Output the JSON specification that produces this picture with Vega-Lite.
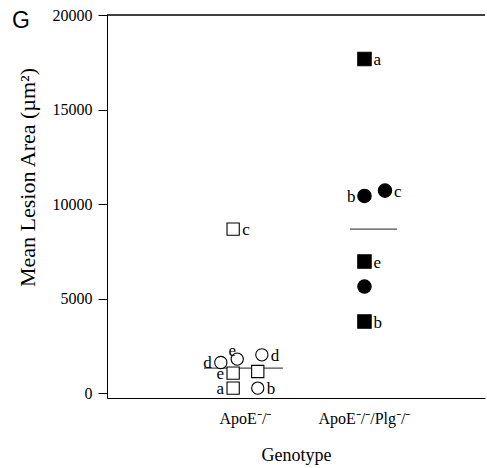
{
  "$schema": "https://vega.github.io/schema/vega-lite/v6.json",
  "width": 378,
  "height": 383,
  "autosize": {"type": "none"},
  "padding": {"left": 107, "top": 15, "right": 2, "bottom": 70},
  "background": "white",
  "title": {
    "text": "G",
    "anchor": "start",
    "frame": "group",
    "font": "Liberation Sans",
    "fontSize": 23,
    "fontWeight": "normal",
    "color": "black",
    "baseline": "top",
    "offset": 0,
    "dx": -95,
    "dy": 26
  },
  "config": {
    "view": {"stroke": null},
    "axis": {"domainColor": "black", "tickColor": "black", "labelColor": "black", "titleColor": "black", "grid": false}
  },
  "datasets": {
    "points": [
      {"genotype": "ApoE⁻/⁻", "cohort": "B", "area": 1618, "slot": -6, "label": "d", "side": "left"},
      {"genotype": "ApoE⁻/⁻", "cohort": "B", "area": 1797, "slot": -2, "label": "e", "side": "top"},
      {"genotype": "ApoE⁻/⁻", "cohort": "B", "area": 2025, "slot": 4, "label": "d", "side": "right"},
      {"genotype": "ApoE⁻/⁻", "cohort": "A", "area": 1057, "slot": -3, "label": "e", "side": "left"},
      {"genotype": "ApoE⁻/⁻", "cohort": "A", "area": 1142, "slot": 3, "label": "", "side": "none"},
      {"genotype": "ApoE⁻/⁻", "cohort": "A", "area": 264, "slot": -3, "label": "a", "side": "left"},
      {"genotype": "ApoE⁻/⁻", "cohort": "B", "area": 264, "slot": 3, "label": "b", "side": "right"},
      {"genotype": "ApoE⁻/⁻", "cohort": "A", "area": 8670, "slot": -3, "label": "c", "side": "right"},
      {"genotype": "ApoE⁻/⁻/Plg⁻/⁻", "cohort": "A", "area": 17672, "slot": 0, "label": "a", "side": "right"},
      {"genotype": "ApoE⁻/⁻/Plg⁻/⁻", "cohort": "B", "area": 10430, "slot": 0, "label": "b", "side": "left"},
      {"genotype": "ApoE⁻/⁻/Plg⁻/⁻", "cohort": "B", "area": 10710, "slot": 5, "label": "c", "side": "right"},
      {"genotype": "ApoE⁻/⁻/Plg⁻/⁻", "cohort": "A", "area": 6957, "slot": 0, "label": "e", "side": "right"},
      {"genotype": "ApoE⁻/⁻/Plg⁻/⁻", "cohort": "B", "area": 5635, "slot": 0, "label": "", "side": "none"},
      {"genotype": "ApoE⁻/⁻/Plg⁻/⁻", "cohort": "A", "area": 3785, "slot": 0, "label": "b", "side": "right"}
    ],
    "means": [
      {"genotype": "ApoE⁻/⁻", "mean": 1322},
      {"genotype": "ApoE⁻/⁻/Plg⁻/⁻", "mean": 8670}
    ]
  },
  "encoding": {
    "x": {
      "field": "genotype",
      "type": "nominal",
      "scale": {"type": "band", "domain": ["ApoE⁻/⁻", "ApoE⁻/⁻/Plg⁻/⁻"], "paddingInner": 0, "paddingOuter": 0.588, "align": 0.564},
      "axis": {
        "title": "Genotype",
        "titleFont": "Liberation Serif",
        "titleFontSize": 18,
        "titleFontWeight": "normal",
        "titlePadding": 20,
        "labelFont": "Liberation Serif",
        "labelFontSize": 16,
        "labelAngle": 0,
        "labelPadding": 12,
        "ticks": false
      }
    },
    "y": {
      "type": "quantitative",
      "scale": {"domain": [-260, 20000], "nice": false, "zero": false},
      "axis": {
        "title": "Mean Lesion Area (µm²)",
        "titleFont": "Liberation Serif",
        "titleFontSize": 22,
        "titleFontWeight": "normal",
        "titlePadding": 13,
        "titleY": 162,
        "values": [0, 5000, 10000, 15000, 20000],
        "format": "d",
        "labelFont": "Liberation Serif",
        "labelFontSize": 16,
        "labelPadding": 6,
        "tickSize": 9
      }
    }
  },
  "layer": [
    {
      "data": {"values": [{}]},
      "mark": {"type": "rule", "color": "black", "strokeWidth": 1.3},
      "encoding": {"x": null, "y": {"datum": 20000}}
    },
    {
      "data": {"name": "means"},
      "transform": [{"filter": "datum.genotype === 'ApoE⁻/⁻'"}],
      "mark": {"type": "tick", "orient": "horizontal", "size": 79, "thickness": 1.2, "color": "black", "xOffset": -2},
      "encoding": {"y": {"field": "mean", "type": "quantitative"}}
    },
    {
      "data": {"name": "means"},
      "transform": [{"filter": "datum.genotype !== 'ApoE⁻/⁻'"}],
      "mark": {"type": "tick", "orient": "horizontal", "size": 47, "thickness": 1.2, "color": "black", "xOffset": 9},
      "encoding": {"y": {"field": "mean", "type": "quantitative"}}
    },
    {
      "data": {"name": "points"},
      "mark": {"type": "point", "stroke": "black", "strokeWidth": 1.1, "opacity": 1},
      "encoding": {
        "xOffset": {"field": "slot", "type": "ordinal", "scale": {"type": "point", "domain": [-14, -13, -12, -11, -10, -9, -8, -7, -6, -5, -4, -3, -2, -1, 0, 1, 2, 3, 4, 5, 6, 7, 8, 9, 10, 11, 12, 13, 14]}},
        "y": {"field": "area", "type": "quantitative"},
        "shape": {"field": "cohort", "type": "nominal", "scale": {"domain": ["A", "B"], "range": ["square", "circle"]}, "legend": null},
        "fill": {"field": "genotype", "type": "nominal", "scale": {"domain": ["ApoE⁻/⁻", "ApoE⁻/⁻/Plg⁻/⁻"], "range": ["white", "black"]}, "legend": null},
        "size": {"field": "genotype", "type": "nominal", "scale": {"domain": ["ApoE⁻/⁻", "ApoE⁻/⁻/Plg⁻/⁻"], "range": [150, 180]}, "legend": null}
      }
    },
    {
      "data": {"name": "points"},
      "transform": [{"filter": "datum.side === 'right'"}],
      "mark": {"type": "text", "align": "left", "baseline": "middle", "dx": 9, "dy": 1, "font": "Liberation Serif", "fontSize": 17, "color": "black"},
      "encoding": {
        "xOffset": {"field": "slot", "type": "ordinal"},
        "y": {"field": "area", "type": "quantitative"},
        "text": {"field": "label"}
      }
    },
    {
      "data": {"name": "points"},
      "transform": [{"filter": "datum.side === 'left'"}],
      "mark": {"type": "text", "align": "right", "baseline": "middle", "dx": -9, "dy": 1, "font": "Liberation Serif", "fontSize": 17, "color": "black"},
      "encoding": {
        "xOffset": {"field": "slot", "type": "ordinal"},
        "y": {"field": "area", "type": "quantitative"},
        "text": {"field": "label"}
      }
    },
    {
      "data": {"name": "points"},
      "transform": [{"filter": "datum.side === 'top'"}],
      "mark": {"type": "text", "align": "center", "baseline": "middle", "dx": -5, "dy": -8, "font": "Liberation Serif", "fontSize": 17, "color": "black"},
      "encoding": {
        "xOffset": {"field": "slot", "type": "ordinal"},
        "y": {"field": "area", "type": "quantitative"},
        "text": {"field": "label"}
      }
    }
  ]
}
